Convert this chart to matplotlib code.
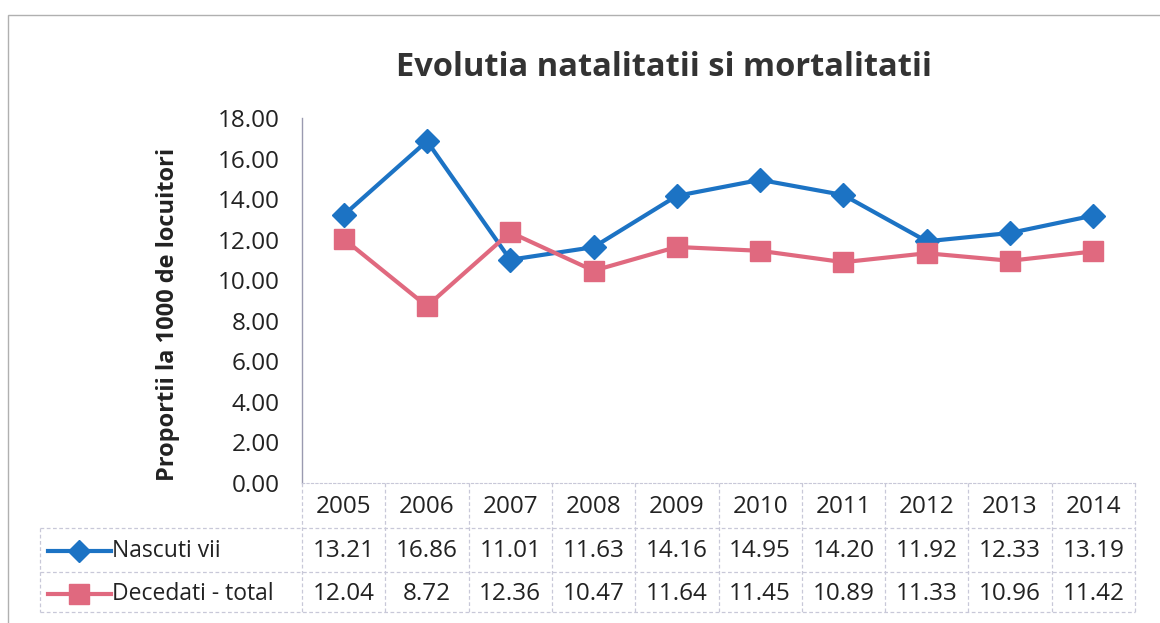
import matplotlib
matplotlib.use("Agg")
import matplotlib.pyplot as plt
from matplotlib.transforms import blended_transform_factory
from matplotlib.lines import Line2D
from matplotlib.patches import Rectangle

years = ["2005", "2006", "2007", "2008", "2009", "2010", "2011", "2012", "2013", "2014"]
nascuti = [13.21, 16.86, 11.01, 11.63, 14.16, 14.95, 14.20, 11.92, 12.33, 13.19]
decedati = [12.04, 8.72, 12.36, 10.47, 11.64, 11.45, 10.89, 11.33, 10.96, 11.42]
series_names = ["Nascuti vii", "Decedati - total"]
yticks = [0, 2, 4, 6, 8, 10, 12, 14, 16, 18]

FONT = ["Open Sans", "DejaVu Sans"]
plt.rcParams['font.family'] = FONT

blue = "#1C73C4"
pink = "#E0697F"
grid_c = "#C8C8D8"
txt_c = "#222222"

W, H = 1160, 623
fig = plt.figure(figsize=(W / 100, H / 100), dpi=100)

def fx(px):
    return px / W

def fy(py):
    return 1 - py / H

left, right, top, bottom = 302, 1135, 118, 483
ax = fig.add_axes([fx(left), fy(bottom), fx(right) - fx(left), fy(top) - fy(bottom)])
x = list(range(len(years)))
ax.plot(x, nascuti, color=blue, lw=3, marker="D", ms=12, mec=blue, mfc=blue, zorder=3)
ax.plot(x, decedati, color=pink, lw=3, marker="s", ms=15, mec=pink, mfc=pink, zorder=3)
ax.set_xlim(-0.5, len(years) - 0.5)
ax.set_ylim(0, 18)
ax.set_yticks(yticks)
ax.set_yticklabels([f"{v:.2f}" for v in yticks], fontsize=17.5, color=txt_c)
ax.tick_params(axis="y", length=0, pad=16)
ax.set_xticks([])
for s in ["top", "right"]:
    ax.spines[s].set_visible(False)
ax.spines["left"].set_color("#9A9AB0")
ax.spines["left"].set_linewidth(1.0)
ax.spines["bottom"].set_color(grid_c)
ax.spines["bottom"].set_linestyle((0, (2, 2)))
ax.set_facecolor("none")

fig.text(fx(168), fy(314), "Proportii la 1000 de locuitori", rotation=90,
         ha="center", va="center", fontsize=17, fontweight="bold", color=txt_c)
fig.text(fx(664), fy(68), "Evolutia natalitatii si mortalitatii", ha="center", va="center",
         fontsize=23.5, fontweight="bold", color="#333333")

# data table
tr = blended_transform_factory(ax.transData, fig.transFigure)
row_y = [507, 551, 594]
fs_tab = 17.5
for i, yr in enumerate(years):
    fig.text(i, fy(row_y[0]), yr, transform=tr, ha="center", va="center", fontsize=fs_tab, color=txt_c)
    fig.text(i, fy(row_y[1]), f"{nascuti[i]:.2f}", transform=tr, ha="center", va="center",
             fontsize=fs_tab, color=txt_c)
    fig.text(i, fy(row_y[2]), f"{decedati[i]:.2f}", transform=tr, ha="center", va="center",
             fontsize=fs_tab, color=txt_c)

line_kw = dict(color=grid_c, lw=0.9, ls=(0, (3, 2)))
for py in [528, 572, 612]:
    fig.add_artist(Line2D([fx(40), fx(right)], [fy(py), fy(py)], **line_kw))
for b in range(len(years) + 1):
    fig.add_artist(Line2D([b - 0.5, b - 0.5], [fy(bottom), fy(612)], transform=tr, **line_kw))
fig.add_artist(Line2D([fx(40), fx(40)], [fy(528), fy(612)], **line_kw))

# legend keys in table
for name, col, mk, ms, py in [(series_names[0], blue, "D", 11, row_y[1]),
                              (series_names[1], pink, "s", 15, row_y[2])]:
    fig.add_artist(Line2D([fx(48), fx(111)], [fy(py), fy(py)], color=col, lw=3))
    fig.add_artist(Line2D([fx(79)], [fy(py)], color=col, marker=mk, ms=ms, mfc=col, mec=col))
    fig.text(fx(112), fy(py), name, ha="left", va="center", fontsize=16.5, color=txt_c)

# outer chart border
fig.add_artist(Rectangle((fx(8), fy(640)), fx(1170) - fx(8), fy(15) - fy(640),
                         fill=False, ec="#B0B0B0", lw=1.0))

fig.savefig("out.png", dpi=100)
